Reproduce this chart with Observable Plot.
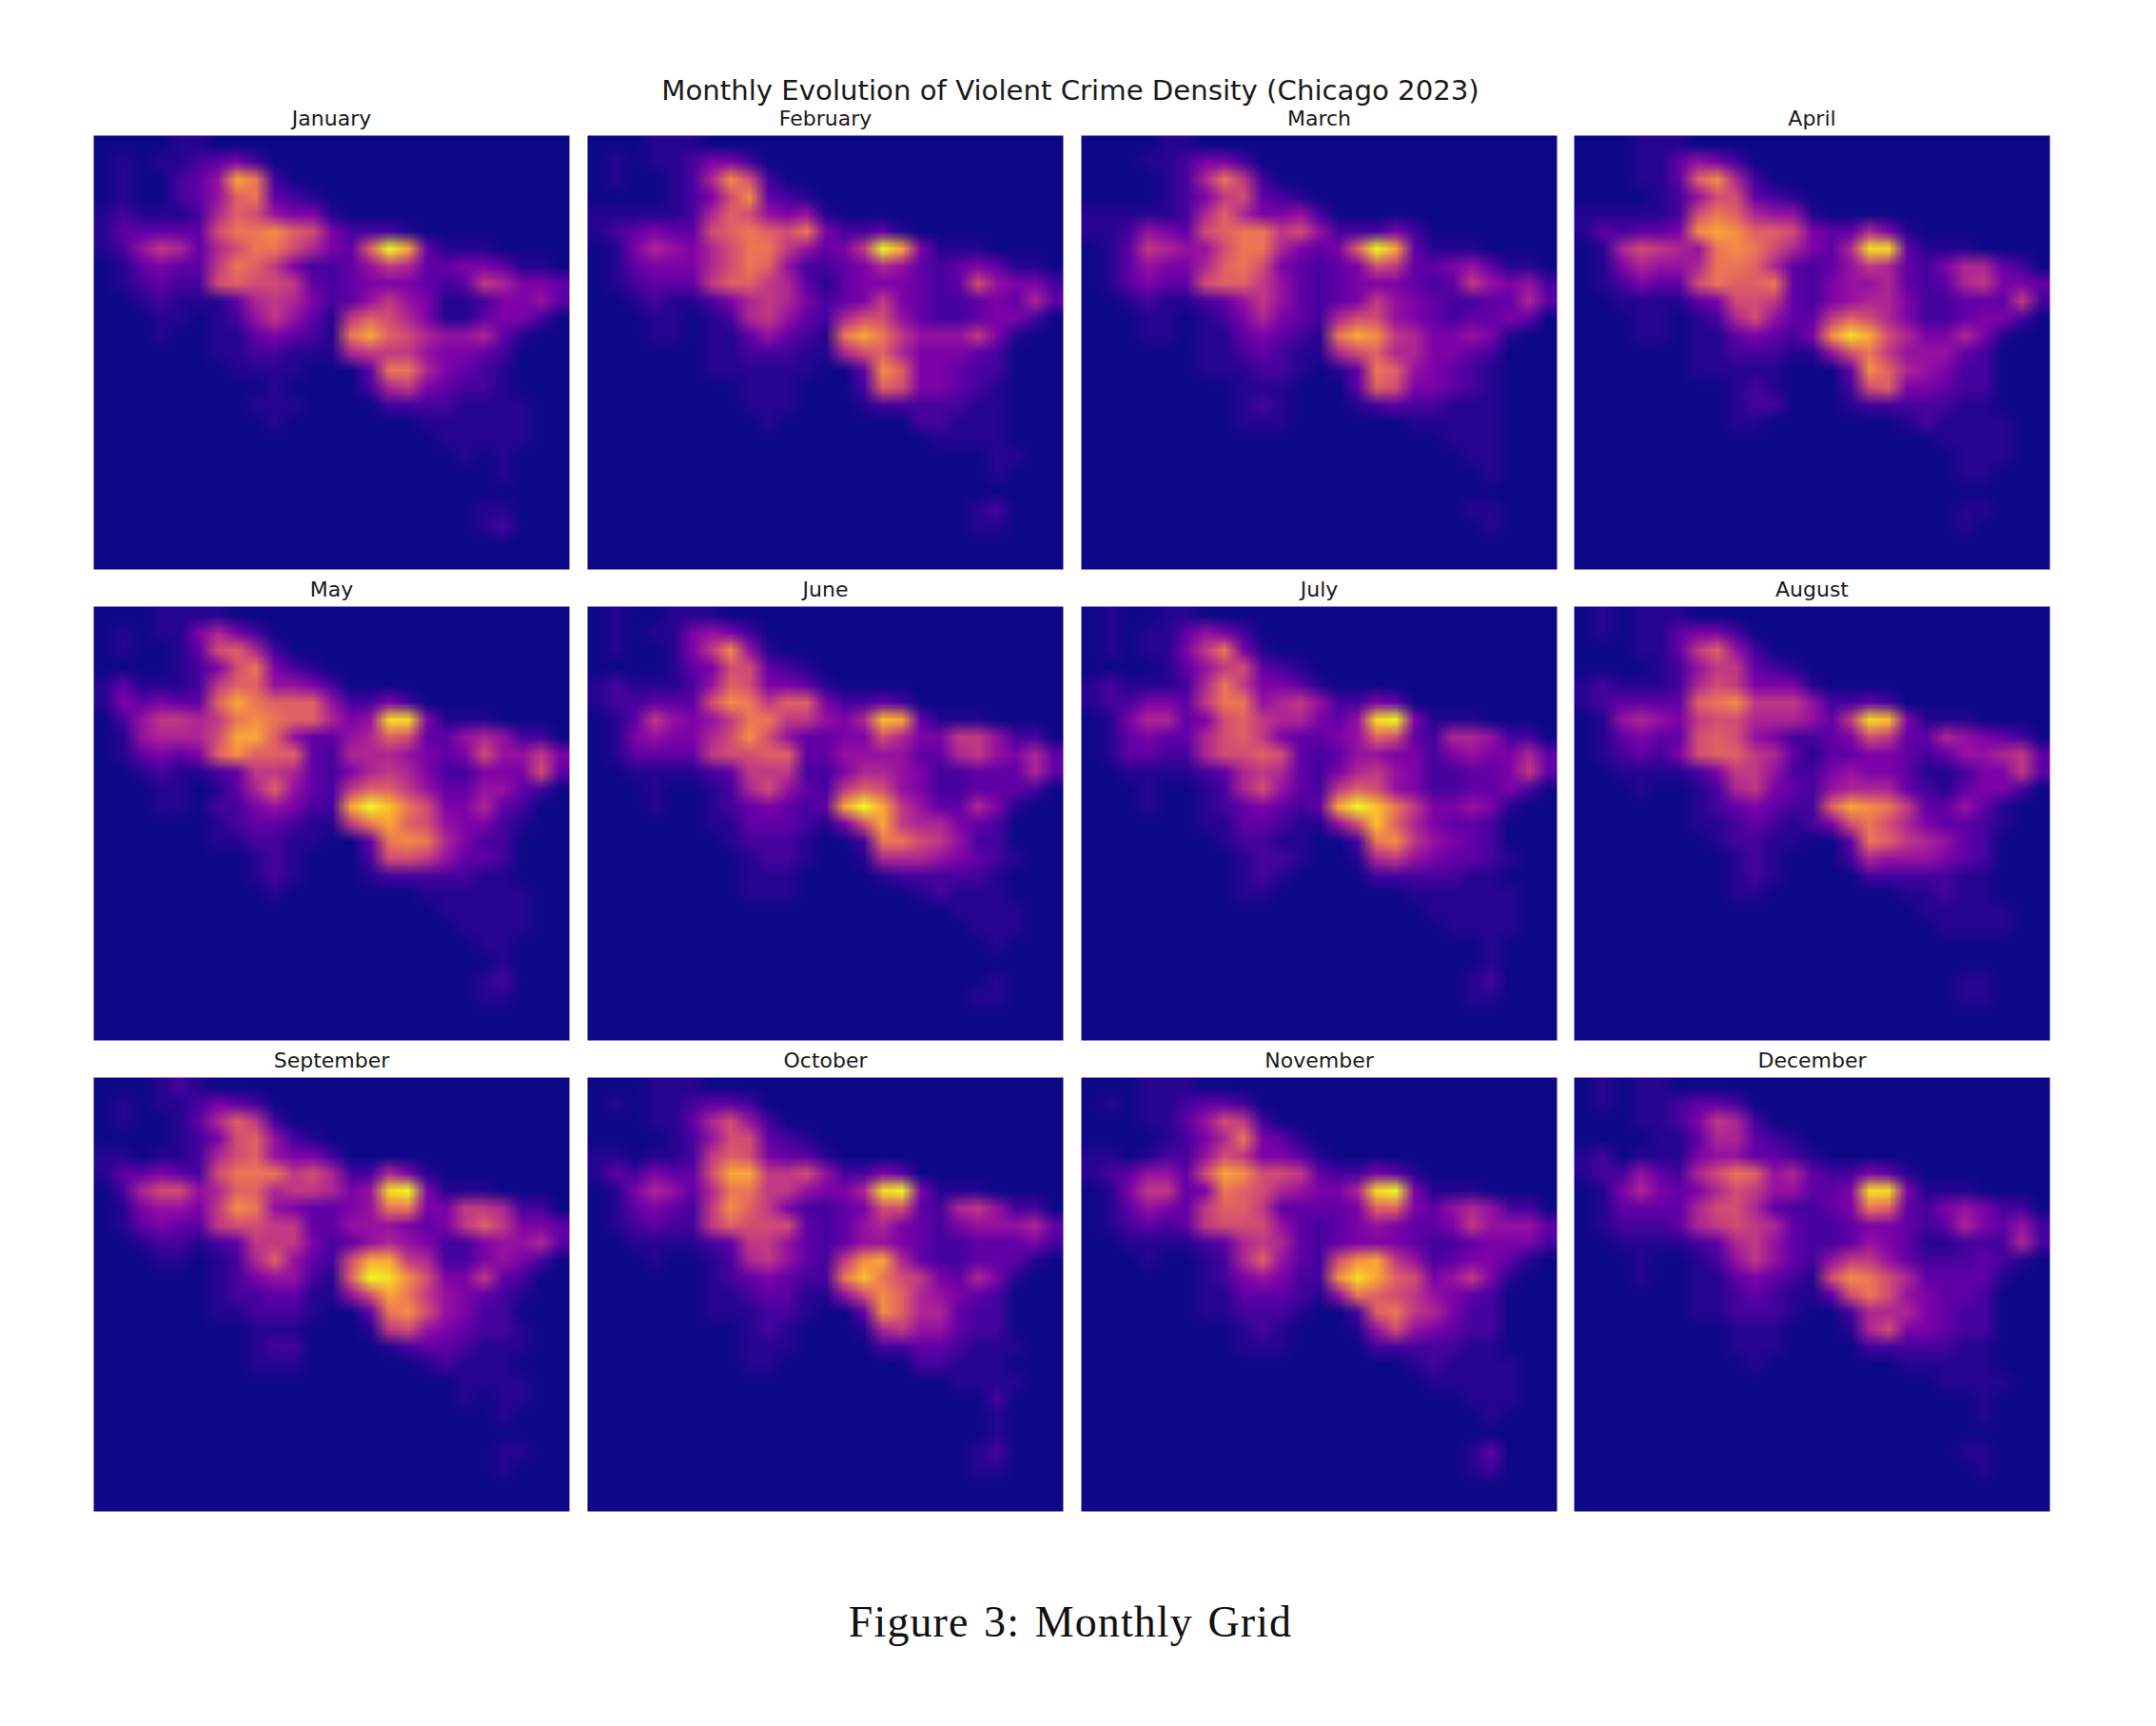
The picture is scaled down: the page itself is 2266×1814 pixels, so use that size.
<!DOCTYPE html>
<html>
<head>
<meta charset="utf-8">
<script src="https://cdn.jsdelivr.net/npm/d3@7"></script>
<script src="https://cdn.jsdelivr.net/npm/@observablehq/plot@0.6"></script>
<style>
html,body{margin:0;padding:0;background:#fff;width:2266px;height:1814px;overflow:hidden}
#chart{position:relative;width:2266px;height:1814px}
#title{position:absolute;left:0;width:2250px;top:74.5px;text-align:center;font:29.2px/40px "DejaVu Sans",sans-serif;color:#1a1a1a}
#caption{position:absolute;left:0;width:2250px;top:1678px;text-align:center;font:46px/54px "Liberation Serif",serif;color:#111;letter-spacing:1.1px;word-spacing:3px}
.panel{position:absolute}
</style>
</head>
<body>
<div id="chart">
<div id="title">Monthly Evolution of Violent Crime Density (Chicago 2023)</div>
<div id="caption">Figure 3: Monthly Grid</div>
</div>
<script>
// Density on a 25 x 25 grid, one hex digit per cell (0 = none, f = peak).
// Rows run from top to bottom; omitted cells and rows are zero.
const monthNames = ["January","February","March","April","May","June","July","August","September","October","November","December"];
const january = ["000011","010112342","0100235ca2","01002359a321","1211126985441","1333338aab9842221","12576368aa86439fc3111","013433 7a9742 235763 344311","0123228988732344432376443","0012111367642357541124453","0001101257531798641134420","0001001134321ac98655631","0000001122111677754432","000000011110003aa64321","0000000001000026743221","000000001110000 22221111","00000000010000000111111","00000000000000000011111","0000000000000000000101","0000000000000000000001","","0000000000000000000011","0000000000000000000012"];
const february = ["000111","010112442","0100126b82","00001248b321","1111126985451","12343389a98a42231","01465468aa75347fc4111","01344468a952234653234311","0123337997631344432385442","0012112467642347432234363","0001101267532688532234420","0001101135321aca7555741","0000001122211689644432","00000011111100 3b944322","00000000111000 29844321","00000000111000 12222211","0000000001000000022111","0000000000000000001111","00000000000000000000011","000000000000000000000 1","","0000000000000000000012","0000000000000000000011"];
const march = ["000011","000112442","0000126a72","000012478321","1111126964452","11254389aa78522242","01376558aa64349fc3111","013544 69a843 234873 345311","0134338997532344432375452","0012112357532347543223363","0001101246432688543233430","0001101134321acb7644541","0000001123211689664432","0000001112210 13a954321","0000000011100039844321","0000000012100012322111","0000000011100000011111","0000000000000000000111","0000000000000000000011","0000000000000000000001","","0000000000000000000011","000000000000000000000 1"];
const april = ["000111","000113542","0001139b62","000012588321","1111128a96551","132334bcb998433641","0168765aba86436ee3111","014655 6aa963 235763 246632","012433 8a99a3 245563 236744 3","0011113488732456642233372","0001101268533798642234420","0001101134324bec8644641","000000112221158a755532","00000011111000 3b965422","00000000121000 28944322","00000000122000 12222211","00000000110000000121111","0000000000000000000 1111","00000000000000000000111","0000000000000000000011","","0000000000000000000011","000000000000000000001"];
const may = ["0001111","010114642","0100138962","00001248a421","1311127995542","1434339ca99952242","0257767aba99645ee4111","015666 8cc953 356983 356522","013434 9b9993 266654 348557 4","0012112377632467642244483","0001101369532799753355320","0001102245422cfda844632","00000012332117ac9854421","00000011221100 3aba6422","00000000121000 28875332","00000000121000 12222211","00000000010000000111111","00000000000000000011111","0000000000000000000 1111","0000000000000000000011","000000000000000000000 1","0000000000000000000012","0000000000000000000011"];
const june = ["0100111","010114542","0100147b51","000013488321","1211125984431","1223338ba79942232","01375457aa77546dc3111","014544 68b853 344864 477522","013333 788993 355553 367546 3","0011112377722466542233363","0001001268532798542233320","0001001234323cfc7533641","000000113332148c766432","0000000122210 02aa87522","00000000122100166654321","000000001110000 1222221","00000000111000000 12111","0000000000000000000 1111","00000000000000000000111","000000000000000000000 1","","000000000000000000000 1","0000000000000000000011"];
const july = ["0100110","010113542","0101147a41","000013578321","1211126a74431","1224437aa56752243","014663489766435ef4111","013433 689743 345983 266522","013322 688983 235544 245446 3","0011112367632467542233473","0001001268532798542233420","0001001234323cfda744541","000000113321158d964332","0000000122110 02ab75432","00000000122100167543321","00000000121000 02222211","00000000110000000111111","00000000000000000011111","0000000000000000000 1111","000000000000000000000 1","000000000000000000000 1","0000000000000000000012","0000000000000000000011"];
const august = ["010111","010113442","0001137952","000012577321","1211126874441","1233339ab77752232","015654788666537ed4111","013433 898542 234873 365432","012324 899763 133443 235567 3","0011112477522454431124473","0001001267432566632134420","00000012343229cba733531","000000112321248a8643321","0000000122110 03a976532","00000000121000 26555432","000000001210000 2222211","0000000011000000011211","00000000000000000011111","0000000000000000000 1111","","","0000000000000000000011","0000000000000000000011"];
const september = ["000121","010112432","0100136972","000012489521","1101126895442","133432 8aaa78 622641","026885 699677 645ef4 111","014554 7ba543 345aa4 477622","013433 788773 355543 479744 3","0012212377742356542245563","00011012695328cc762245420","00000012455219feb844732","000000122331158ca754321","00000011222100 3ab85422","00000000111000178543221","000000001220000 12332111","00000000111000000 12111","0000000000000000000 1111","0000000000000000000 1011","000000000000000000000 1","","00000000000000000000011","000000000000000000000 1"];
const october = ["000111","010112332","0001136852","000012588321","1101127984331","132433 8cc778 52243","014653 6aa775 446ef4 111","013432 7b9742 234883 267522","012322 798883 235643 245556 3","0011112377532355432233342","00010012675327bc632233310","0000001234322ada8743641","000000112331158b965432","00000011122100 3b966322","00000000121000 16755322","000000001110000 22332111","0000000011000000022111","0000000000000000000 1111","000000000000000000000 2","000000000000000000000 1","000000000000000000000 1","0000000000000000000012","0000000000000000000011"];
const november = ["000111","010112332","0001135872","00001246a431","1101225874431","123553 8cb887 322431","014773 4a9865 446ef4 111","013543 799733 334994 356522","012323 788853 234543 347555 3","0011112367632344432234442","00010012695328bc752344310","0000001245422bec9845741","00000011333215a9875432","00000011222100 29a76422","00000000121000 15854322","000000001110000 2222211","00000000000000000121111","00000000000000000011111","00000000000000000000111","000000000000000000000 1","","0000000000000000000013","0000000000000000000012"];
const december = ["01011","010112332","0001124762","000011366321","1201114553321","122532 68a956 322431","014643 468755 334ee4 111","013333 688632 234a93 245422","012223 678763 223443 236435 2","0011112367532235431122262","0001001257532577532223210","00010011343218ba8633331","000000112321138a854332","00000011222100 26664322","00000000111000 16844322","000000001110000 2222211","000000000100000 0011111","0000000000000000000 1111","000000000000000000000 1","000000000000000000000 1","","0000000000000000000011","000000000000000000000 1"];
const monthGrids = [january,february,march,april,may,june,july,august,september,october,november,december];
const gridSize = 25;
const panelLefts = [98.3,616.7,1136.3,1654.3];
const panelTops = [142.3,636.7,1132.3];

// Spaces in a row are only visual grouping.
const cells = rows => {
  const out = [];
  for (let r = 0; r < gridSize; r++) {
    const row = (rows[r] || "").replace(/ /g,"").padEnd(gridSize,"0");
    for (let c = 0; c < gridSize; c++) out.push(parseInt(row[c],16));
  }
  return out;
};

const chart = document.getElementById("chart");
monthNames.forEach((name,i) => {
  const svg = Plot.plot({
    width:500, height:496, marginTop:40, marginLeft:0, marginRight:0, marginBottom:0,
    style:{background:"transparent",fontFamily:"'DejaVu Sans',sans-serif",overflow:"visible"},
    x:{domain:[0,gridSize],axis:null},
    y:{domain:[0,gridSize],reverse:true,axis:null},
    color:{type:"linear",domain:[0.4,15],clamp:true,scheme:"plasma"},
    marks:[
      Plot.raster(cells(monthGrids[i]),{width:gridSize,height:gridSize,x1:0,x2:gridSize,y1:0,y2:gridSize,imageRendering:"auto"}),
      Plot.text([name],{text:d=>d,frameAnchor:"top",dy:-26,fontSize:22,fill:"#1a1a1a"})
    ]
  });
  svg.classList.add("panel");
  svg.style.left = panelLefts[i%4]+"px";
  svg.style.top = (panelTops[Math.floor(i/4)]-40)+"px";
  chart.appendChild(svg);
});
</script>
</body>
</html>
